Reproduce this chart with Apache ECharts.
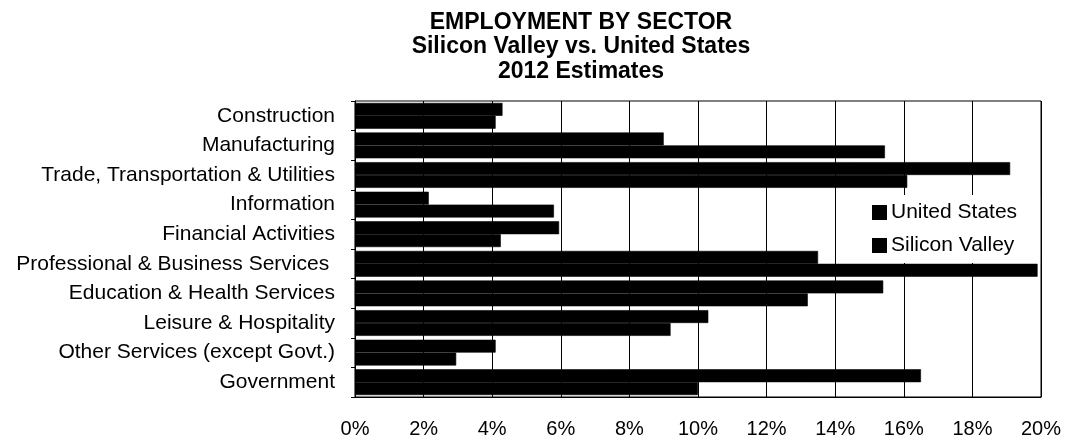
<!DOCTYPE html>
<html>
<head>
<meta charset="utf-8">
<script src="https://cdn.jsdelivr.net/npm/echarts@6/dist/echarts.min.js"></script>
<style>
  html, body { margin: 0; padding: 0; background: #fff; }
  #chart { width: 1067px; height: 446px; }
</style>
</head>
<body>
<div id="chart"></div>
<script>
// Sectors, listed top to bottom
const sectors = [
  'Construction',
  'Manufacturing',
  'Trade, Transportation & Utilities',
  'Information',
  'Financial Activities',
  'Professional & Business Services ',
  'Education & Health Services',
  'Leisure & Hospitality',
  'Other Services (except Govt.)',
  'Government'
];

// Share of total employment, percent (2012 estimates)
const unitedStates  = [4.3, 9.0, 19.1, 2.15, 5.95, 13.5, 15.4, 10.3, 4.1, 16.5];
const siliconValley = [4.1, 15.45, 16.1, 5.8, 4.25, 19.9, 13.2, 9.2, 2.95, 10.0];

const seriesNames = ['United States', 'Silicon Valley'];
const titleLines = ['EMPLOYMENT BY SECTOR', 'Silicon Valley vs. United States', '2012 Estimates'];

const FONT = '"Liberation Sans", Arial, sans-serif';

const chart = echarts.init(document.getElementById('chart'), null, { renderer: 'canvas' });

// Solid black bars; a hairline stroke of the same colour closes the
// anti-aliasing seam between the two bars of a category.
const barStyle = { color: '#000', borderColor: '#000', borderWidth: 0.6 };

chart.setOption({
  backgroundColor: '#ffffff',
  animation: false,
  title: {
    text: titleLines.join('\n'),
    left: 576,
    top: 5,
    textAlign: 'center',
    textStyle: {
      fontFamily: FONT,
      fontWeight: 'bold',
      fontSize: 23,
      lineHeight: 24.6,
      color: '#000'
    }
  },
  legend: {
    orient: 'vertical',
    left: 840,
    top: 195,
    padding: [7, 23, 7, 32],
    itemGap: 12,
    itemWidth: 13,
    itemHeight: 13,
    icon: 'rect',
    backgroundColor: '#ffffff',
    selectedMode: false,
    textStyle: { fontFamily: FONT, fontSize: 21, color: '#000' },
    data: seriesNames
  },
  grid: {
    left: 355,
    right: 26,
    top: 101,
    bottom: 49,
    show: true,
    borderColor: '#000',
    borderWidth: 1,
    containLabel: false
  },
  xAxis: {
    type: 'value',
    min: 0,
    max: 20,
    interval: 2,
    axisLine: { show: true, lineStyle: { color: '#000', width: 1 } },
    axisTick: { show: false },
    splitLine: { show: true, lineStyle: { color: '#000', width: 1 } },
    axisLabel: {
      formatter: '{value}%',
      margin: 22,
      fontFamily: FONT,
      fontSize: 20,
      color: '#000'
    }
  },
  yAxis: {
    type: 'category',
    inverse: true,
    data: sectors,
    axisLine: { show: true, lineStyle: { color: '#000', width: 1 } },
    axisTick: { show: true, length: 4, lineStyle: { color: '#000' } },
    splitLine: { show: false },
    axisLabel: {
      margin: 20,
      fontFamily: FONT,
      fontSize: 21,
      color: '#000'
    }
  },
  series: [
    {
      name: seriesNames[0],
      type: 'bar',
      data: unitedStates,
      itemStyle: barStyle,
      barGap: '0%',
      barCategoryGap: '13%'
    },
    {
      name: seriesNames[1],
      type: 'bar',
      data: siliconValley,
      itemStyle: barStyle,
      barGap: '0%',
      barCategoryGap: '13%'
    }
  ]
});
</script>
</body>
</html>
